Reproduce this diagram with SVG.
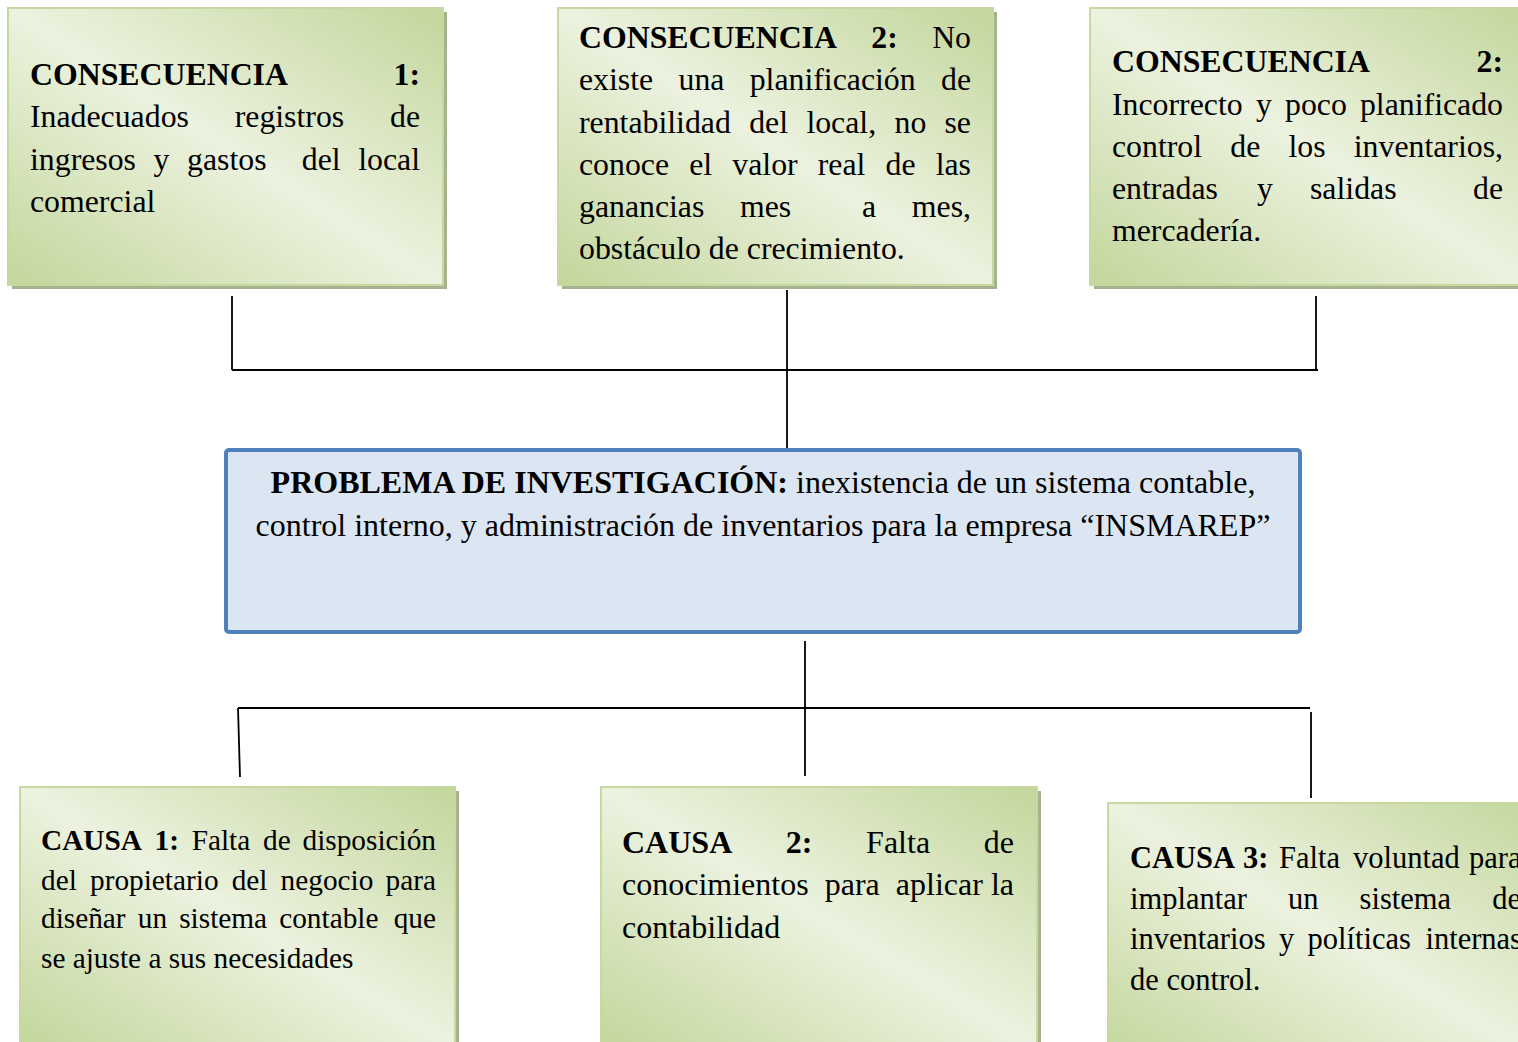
<svg xmlns="http://www.w3.org/2000/svg" width="1518" height="1042" viewBox="0 0 1518 1042">
<defs>
<linearGradient id="g" x1="0" y1="1" x2="1" y2="0">
<stop offset="0" stop-color="#c3d69b"/>
<stop offset="0.5" stop-color="#ecf2df"/>
<stop offset="1" stop-color="#c3d69b"/>
</linearGradient>
<style>
.box{fill:url(#g);stroke:#c6d9a0;stroke-width:2}
.sh{fill:#a7b28f}
.b{font-weight:bold}
.e{text-anchor:end}
.ln{stroke:#000;stroke-width:1.8;fill:none}
.prob{fill:#dce6f2;stroke:#4f81bd;stroke-width:4}
</style>
</defs>
<rect width="1518" height="1042" fill="#fff"/>

<g id="connectors">
<path class="ln" d="M232 296 V370 M232 370 H1318 M787 290 V453 M1316 296 V370"/>
<path class="ln" d="M238 708 L240 777 M238 708 H1310 M805 641 V776 M1311 712 V798"/>
</g>

<g font-family="Liberation Serif, Times New Roman, serif" font-size="31.8" fill="#000">
<g id="consecuencia1">
<rect class="sh" x="12" y="12" width="435" height="277"/>
<rect class="box" x="8" y="8" width="435" height="277"/>
<text class="b" x="30" y="85">CONSECUENCIA</text>
<text class="b e" x="420" y="85">1:</text>
<text y="127"><tspan x="30">Inadecuados</tspan><tspan x="234.7">registros</tspan></text>
<text class="e" x="420" y="127">de</text>
<text y="170"><tspan x="30">ingresos</tspan><tspan x="153.6">y</tspan><tspan x="187.1">gastos</tspan><tspan x="301.8">del</tspan></text>
<text class="e" x="420" y="170">local</text>
<text x="30" y="212">comercial</text>
</g>

<g id="consecuencia2">
<rect class="sh" x="562" y="12" width="435" height="277"/>
<rect class="box" x="558" y="8" width="435" height="277"/>
<text y="48"><tspan class="b" x="579">CONSECUENCIA</tspan><tspan class="b" x="871.3">2:</tspan></text>
<text class="e" x="971" y="48">No</text>
<text y="90"><tspan x="579">existe</tspan><tspan x="678.5">una</tspan><tspan x="749.7">planificación</tspan></text>
<text class="e" x="971" y="90">de</text>
<text y="133"><tspan x="579">rentabilidad</tspan><tspan x="749.2">del</tspan><tspan x="806.4">local,</tspan><tspan x="894.5">no</tspan></text>
<text class="e" x="971" y="133">se</text>
<text y="175"><tspan x="579">conoce</tspan><tspan x="689.2">el</tspan><tspan x="732.3">valor</tspan><tspan x="817.7">real</tspan><tspan x="885.5">de</tspan></text>
<text class="e" x="971" y="175">las</text>
<text y="217"><tspan x="579">ganancias</tspan><tspan x="740">mes</tspan><tspan x="862">a</tspan></text>
<text class="e" x="971" y="217">mes,</text>
<text x="579" y="259">obstáculo de crecimiento.</text>
</g>

<g id="consecuencia3">
<rect class="sh" x="1094" y="12" width="440" height="277"/>
<rect class="box" x="1090" y="8" width="440" height="277"/>
<text class="b" x="1112" y="72">CONSECUENCIA</text>
<text class="b e" x="1503" y="72">2:</text>
<text y="115"><tspan x="1112">Incorrecto</tspan><tspan x="1255.9">y</tspan><tspan x="1285">poco</tspan></text>
<text class="e" x="1503" y="115">planificado</text>
<text y="157"><tspan x="1112">control</tspan><tspan x="1230.3">de</tspan><tspan x="1288.5">los</tspan></text>
<text class="e" x="1503" y="157">inventarios,</text>
<text y="199"><tspan x="1112">entradas</tspan><tspan x="1257">y</tspan><tspan x="1310">salidas</tspan></text>
<text class="e" x="1503" y="199">de</text>
<text x="1112" y="241">mercadería.</text>
</g>

<g id="problema" font-size="32">
<rect class="prob" x="226" y="450" width="1074" height="182" rx="3"/>
<text x="763" y="493" text-anchor="middle"><tspan class="b">PROBLEMA DE INVESTIGACIÓN:</tspan> inexistencia de un sistema contable,</text>
<text x="763" y="536" text-anchor="middle">control interno, y administración de inventarios para la empresa “INSMAREP”</text>
</g>

<g id="causa1" font-size="29.3">
<rect class="sh" x="24" y="791" width="435" height="260"/>
<rect class="box" x="20" y="787" width="435" height="260"/>
<text y="850"><tspan class="b" x="41">CAUSA</tspan><tspan class="b" x="154.6">1:</tspan><tspan x="191.7">Falta</tspan><tspan x="263">de</tspan></text>
<text class="e" x="436" y="850">disposición</text>
<text y="890"><tspan x="41">del</tspan><tspan x="90">propietario</tspan><tspan x="231.7">del</tspan><tspan x="280.6">negocio</tspan></text>
<text class="e" x="436" y="890">para</text>
<text y="928"><tspan x="41">diseñar</tspan><tspan x="137.8">un</tspan><tspan x="179.2">sistema</tspan><tspan x="279.2">contable</tspan></text>
<text class="e" x="436" y="928">que</text>
<text x="41" y="968">se ajuste a sus necesidades</text>
</g>

<g id="causa2" font-size="32">
<rect class="sh" x="605" y="791" width="436" height="260"/>
<rect class="box" x="601" y="787" width="436" height="260"/>
<text y="853"><tspan class="b" x="622">CAUSA</tspan><tspan class="b" x="785.8">2:</tspan><tspan x="866.1">Falta</tspan></text>
<text class="e" x="1014" y="853">de</text>
<text y="895"><tspan x="622">conocimientos</tspan><tspan x="824.7">para</tspan><tspan x="895.8">aplicar</tspan></text>
<text class="e" x="1014" y="895">la</text>
<text x="622" y="938">contabilidad</text>
</g>

<g id="causa3" font-size="30.5">
<rect class="sh" x="1112" y="807" width="440" height="260"/>
<rect class="box" x="1108" y="803" width="440" height="260"/>
<text y="868"><tspan class="b" x="1130">CAUSA</tspan><tspan class="b" x="1243">3:</tspan><tspan x="1279">Falta</tspan><tspan x="1353">voluntad</tspan><tspan x="1469">para</tspan></text>
<text y="909"><tspan x="1130">implantar</tspan><tspan x="1288">un</tspan><tspan x="1359.6">sistema</tspan></text>
<text class="e" x="1521" y="909">de</text>
<text y="949"><tspan x="1130">inventarios</tspan><tspan x="1278.9">y</tspan><tspan x="1307.6">políticas</tspan></text>
<text class="e" x="1522" y="949">internas</text>
<text x="1130" y="990">de control.</text>
</g>
</g>
</svg>
